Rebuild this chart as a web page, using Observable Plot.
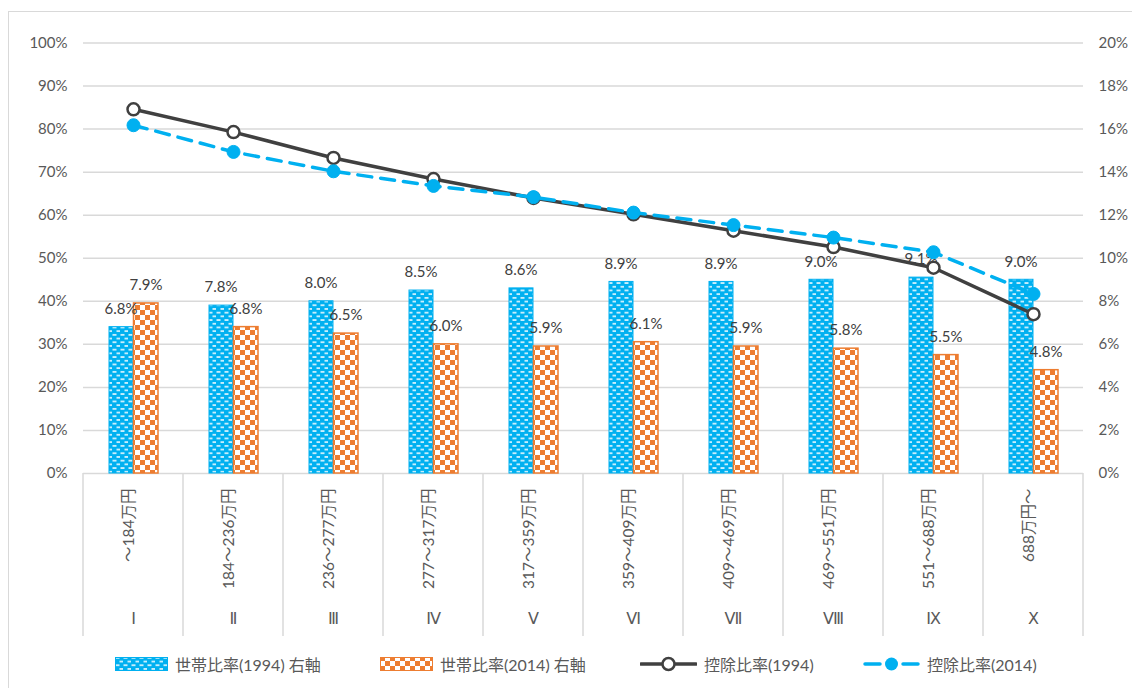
<!DOCTYPE html>
<html>
<head>
<meta charset="utf-8">
<script src="https://cdn.jsdelivr.net/npm/d3@7"></script>
<script src="https://cdn.jsdelivr.net/npm/@observablehq/plot@0.6"></script>
<style>
  body { margin: 0; background: #fff; font-family: Lato, "Noto Sans CJK JP", sans-serif; }
  #wrap { position: relative; width: 1132px; height: 688px; overflow: hidden; }
  #frame { position: absolute; left: 8px; top: 11px; width: 1200px; height: 800px; border: 1px solid #d9d9d9; pointer-events: none; }
  #chart { position: relative; height: 650px; }
  #legend { position: relative; height: 38px; color: #595959; font-size: 16px; }
  .item { position: absolute; top: 0; height: 28px; display: flex; align-items: center; white-space: nowrap; }
  .item svg { margin-right: 7px; }
</style>
</head>
<body>
<div id="wrap">
  <div id="frame"></div>
  <div id="chart"></div>
  <div id="legend"></div>
</div>
<script>
// Income classes (annual income bands) and their rank numerals
const categories = ["～184万円", "184～236万円", "236～277万円", "277～317万円", "317～359万円",
                    "359～409万円", "409～469万円", "469～551万円", "551～688万円", "688万円～"];
const ranks = ["Ⅰ", "Ⅱ", "Ⅲ", "Ⅳ", "Ⅴ", "Ⅵ", "Ⅶ", "Ⅷ", "Ⅸ", "Ⅹ"];

// Household share per class (right axis, %)
const share1994 = [6.8, 7.8, 8.0, 8.5, 8.6, 8.9, 8.9, 9.0, 9.1, 9.0];
const share2014 = [7.9, 6.8, 6.5, 6.0, 5.9, 6.1, 5.9, 5.8, 5.5, 4.8];

// Deduction ratio per class (left axis, %)
const deduct1994 = [84.6, 79.3, 73.3, 68.4, 64.0, 60.2, 56.4, 52.6, 47.8, 37.0];
const deduct2014 = [80.9, 74.7, 70.2, 66.8, 64.2, 60.6, 57.7, 54.8, 51.4, 41.7];

// Axis ticks
const leftTicks = d3.range(0, 101, 10);   // 0%..100%
const rightScale = 5;                      // right axis 0..20% maps onto 0..100

const BLUE = "#00B0F0", ORANGE = "#ED7D31", DARK = "#404040", GRID = "#d9d9d9";

const rows = (vals) => categories.map((c, i) => ({cat: c, v: vals[i]}));
const s94 = rows(share1994), s14 = rows(share2014);
const d94 = rows(deduct1994), d14 = rows(deduct2014);

// Fill patterns for the bars
function patternDefs(prefix) {
  const defs = d3.create("svg:defs");
  const p1 = defs.append("pattern").attr("id", prefix + "dash").attr("patternUnits", "userSpaceOnUse")
    .attr("width", 8).attr("height", 7.4);
  p1.append("rect").attr("width", 8).attr("height", 7.4).attr("fill", BLUE);
  p1.append("rect").attr("x", 0.5).attr("y", 1).attr("width", 4).attr("height", 1.7).attr("fill", "#ffffff").attr("opacity", 0.85);
  p1.append("rect").attr("x", 4.5).attr("y", 4.7).attr("width", 4).attr("height", 1.7).attr("fill", "#ffffff").attr("opacity", 0.85);
  const p2 = defs.append("pattern").attr("id", prefix + "check").attr("patternUnits", "userSpaceOnUse")
    .attr("width", 10).attr("height", 10);
  p2.append("rect").attr("width", 10).attr("height", 10).attr("fill", "#ffffff");
  p2.append("rect").attr("width", 5).attr("height", 5).attr("fill", ORANGE);
  p2.append("rect").attr("x", 5).attr("y", 5).attr("width", 5).attr("height", 5).attr("fill", ORANGE);
  return defs.node();
}

// Vertical separators between the class bands below the baseline
function separators(index, scales, values, dims) {
  const x = scales.x;
  const bw = x.bandwidth ? x.bandwidth() : (dims.width - dims.marginLeft - dims.marginRight) / categories.length;
  const edges = categories.map(c => x(c)).concat([x(categories[categories.length - 1]) + bw]);
  const y0 = dims.height - dims.marginBottom;
  const g = d3.create("svg:g");
  g.selectAll("line").data(edges).join("line")
    .attr("x1", d => d).attr("x2", d => d)
    .attr("y1", y0).attr("y2", y0 + 163)
    .attr("stroke", GRID).attr("stroke-width", 1.5);
  return g.node();
}

const fmt = v => v.toFixed(1) + "%";

const chart = Plot.plot({
  width: 1132,
  height: 650,
  marginLeft: 83,
  marginRight: 49,
  marginTop: 42.5,
  marginBottom: 177,
  style: {fontFamily: 'Lato, "Noto Sans CJK JP", sans-serif', fontSize: "15px", color: "#595959", background: "transparent"},
  x: {type: "band", domain: categories, padding: 0, axis: null},
  y: {domain: [0, 100], axis: null},
  marks: [
    () => patternDefs("c-"),
    Plot.gridY(leftTicks, {stroke: GRID, strokeOpacity: 1, strokeWidth: 1.5}),
    Plot.axisY(leftTicks, {anchor: "left", label: null, tickSize: 0, tickPadding: 16, tickFormat: d => d + "%", fontSize: 15}),
    Plot.axisY(leftTicks, {anchor: "right", label: null, tickSize: 0, tickPadding: 15, tickFormat: d => (d / rightScale) + "%", fontSize: 15}),
    separators,
    // household share bars (scaled onto the left-axis range)
    Plot.barY(s94, {x: "cat", y: d => d.v * rightScale, fill: "url(#c-dash)", stroke: BLUE, strokeWidth: 1, insetLeft: 26, insetRight: 50}),
    Plot.barY(s14, {x: "cat", y: d => d.v * rightScale, fill: "url(#c-check)", stroke: ORANGE, strokeWidth: 1.5, insetLeft: 50.5, insetRight: 25}),
    Plot.text(s94, {x: "cat", y: d => d.v * rightScale, text: d => fmt(d.v), dx: -12.5, dy: -18, fill: DARK, fontSize: 15}),
    Plot.text(s14, {x: "cat", y: d => d.v * rightScale, text: d => fmt(d.v), dx: 12.5, dy: -18, fill: DARK, fontSize: 15}),
    // deduction ratio lines
    Plot.line(d94, {x: "cat", y: "v", stroke: DARK, strokeWidth: 3.5}),
    Plot.dot(d94, {x: "cat", y: "v", r: 6, fill: "#ffffff", stroke: DARK, strokeWidth: 2.5}),
    Plot.line(d14, {x: "cat", y: "v", stroke: BLUE, strokeWidth: 3.5, strokeDasharray: "14,9"}),
    Plot.dot(d14, {x: "cat", y: "v", r: 6.5, fill: BLUE, stroke: BLUE, strokeWidth: 1}),
    // class labels below the baseline
    Plot.text(categories, {x: d => d, frameAnchor: "bottom", dy: 15, rotate: -90, textAnchor: "end", fontSize: 15.5, fill: "#595959"}),
    Plot.text(categories, {x: d => d, text: (d, i) => ranks[i], frameAnchor: "bottom", dy: 150, fontFamily: '"DejaVu Sans", "Noto Sans CJK JP"', fontSize: 16, fill: "#595959"})
  ]
});
document.getElementById("chart").appendChild(chart);

// Legend below the chart
const legend = d3.select("#legend");
const items = [
  {left: 115, label: "世帯比率(1994) 右軸", kind: "dash"},
  {left: 380, label: "世帯比率(2014) 右軸", kind: "check"},
  {left: 640, label: "控除比率(1994)", kind: "line94"},
  {left: 863, label: "控除比率(2014)", kind: "line14"}
];
items.forEach((it, k) => {
  const div = legend.append("div").attr("class", "item").style("left", it.left + "px");
  const svg = div.append("svg").attr("width", it.kind.startsWith("line") ? 57 : 53).attr("height", 16);
  svg.node().appendChild(patternDefs("l" + k + "-"));
  if (it.kind === "dash" || it.kind === "check") {
    svg.append("rect").attr("x", 0.5).attr("y", 1.5).attr("width", 52).attr("height", 13)
      .attr("fill", `url(#l${k}-${it.kind})`)
      .attr("stroke", it.kind === "dash" ? BLUE : ORANGE).attr("stroke-width", 1);
  } else if (it.kind === "line94") {
    svg.append("line").attr("x1", 1).attr("x2", 56).attr("y1", 8).attr("y2", 8).attr("stroke", DARK).attr("stroke-width", 3.5).attr("stroke-linecap", "round");
    svg.append("circle").attr("cx", 28.5).attr("cy", 8).attr("r", 6).attr("fill", "#fff").attr("stroke", DARK).attr("stroke-width", 2.5);
  } else {
    svg.append("line").attr("x1", 2).attr("x2", 17).attr("y1", 8).attr("y2", 8).attr("stroke", BLUE).attr("stroke-width", 3.5).attr("stroke-linecap", "round");
    svg.append("line").attr("x1", 40).attr("x2", 55).attr("y1", 8).attr("y2", 8).attr("stroke", BLUE).attr("stroke-width", 3.5).attr("stroke-linecap", "round");
    svg.append("circle").attr("cx", 28.5).attr("cy", 8).attr("r", 6.5).attr("fill", BLUE);
  }
  div.append("span").text(it.label);
});
</script>
</body>
</html>
